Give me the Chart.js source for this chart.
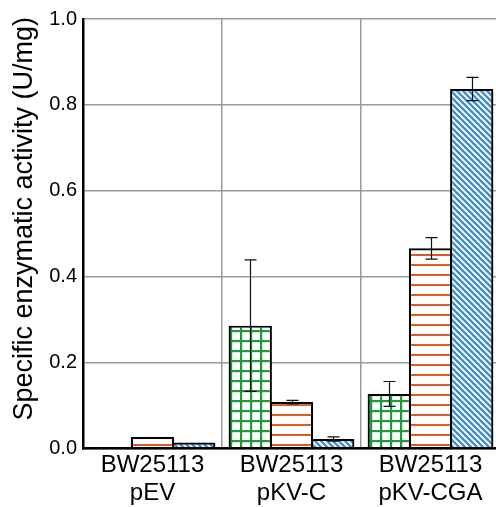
<!DOCTYPE html>
<html>
<head>
<meta charset="utf-8">
<script src="https://cdn.jsdelivr.net/npm/chart.js@4"></script>
<style>
  html, body { margin: 0; padding: 0; background: #fff; overflow: hidden; width: 496px; height: 507px; }
  #wrap { width: 500px; height: 507px; }
</style>
</head>
<body>
<div id="wrap"><canvas id="c" width="500" height="507"></canvas></div>
<script>
const categories = [['BW25113', 'pEV'], ['BW25113', 'pKV-C'], ['BW25113', 'pKV-CGA']];
const greenValues = [0, 0.286, 0.127];
const orangeValues = [0.027, 0.108, 0.466];
const blueValues = [0.014, 0.022, 0.837];
const greenErrors = [0, 0.153, 0.029];
const orangeErrors = [0, 0.004, 0.025];
const blueErrors = [0, 0.005, 0.027];
const yTicks = [0, 0.2, 0.4, 0.6, 0.8, 1.0];

function makePattern(w, h, draw) {
  const c = document.createElement('canvas');
  c.width = w; c.height = h;
  const g = c.getContext('2d');
  g.fillStyle = '#ffffff';
  g.fillRect(0, 0, w, h);
  draw(g, w, h);
  return document.getElementById('c').getContext('2d').createPattern(c, 'repeat');
}
const greenPattern = makePattern(10, 10, (g) => {
  g.fillStyle = '#1f9a3a';
  g.fillRect(0, 0, 10, 2.2);
  g.fillRect(0, 0, 2.2, 10);
});
const orangePattern = makePattern(10, 10, (g) => {
  g.fillStyle = '#e0581f';
  g.fillRect(0, 4, 10, 2);
});
const bluePattern = makePattern(6, 6, (g) => {
  g.strokeStyle = '#3f8fcf';
  g.lineWidth = 2.4;
  for (let k = -1; k <= 1; k++) {
    g.beginPath();
    g.moveTo(k * 6 - 2, -2);
    g.lineTo(k * 6 + 8, 8);
    g.stroke();
  }
});

const errorsByDataset = [greenErrors, orangeErrors, blueErrors];

const errorBarPlugin = {
  id: 'errorBars',
  afterDatasetsDraw(chart) {
    const ctx = chart.ctx;
    const yScale = chart.scales.y;
    ctx.save();
    ctx.strokeStyle = '#111';
    ctx.lineWidth = 1.2;
    chart.data.datasets.forEach((ds, i) => {
      const meta = chart.getDatasetMeta(i);
      meta.data.forEach((bar, j) => {
        const err = errorsByDataset[i][j];
        const v = ds.data[j];
        if (!err) return;
        const x = Math.round(bar.x) + 0.5;
        const yHi = yScale.getPixelForValue(v + err);
        const yLo = yScale.getPixelForValue(v - err);
        const cap = 6;
        ctx.beginPath();
        ctx.moveTo(x, yHi); ctx.lineTo(x, yLo);
        ctx.moveTo(x - cap, yHi); ctx.lineTo(x + cap, yHi);
        ctx.moveTo(x - cap, yLo); ctx.lineTo(x + cap, yLo);
        ctx.stroke();
      });
    });
    ctx.restore();
  }
};

const font = "'Liberation Sans', Arial, Helvetica, sans-serif";

new Chart(document.getElementById('c'), {
  type: 'bar',
  data: {
    labels: categories,
    datasets: [
      { data: greenValues, backgroundColor: greenPattern },
      { data: orangeValues, backgroundColor: orangePattern },
      { data: blueValues, backgroundColor: bluePattern }
    ].map(d => Object.assign(d, {
      borderColor: '#000',
      borderWidth: 2.2,
      borderSkipped: 'start',
      categoryPercentage: 0.89,
      barPercentage: 1.05
    }))
  },
  options: {
    responsive: false,
    devicePixelRatio: 1,
    animation: false,
    layout: { padding: { top: 19, right: 0, bottom: 0, left: 0 } },
    plugins: { legend: { display: false }, tooltip: { enabled: false } },
    scales: {
      x: {
        grid: { color: '#9a9a9a', lineWidth: 1.5, drawTicks: false, offset: true },
        border: { color: '#000', width: 2.5, z: 1 },
        ticks: { color: '#000', font: { family: font, size: 24 }, padding: 2 },
        afterFit(s) { s.height = 58.5; }
      },
      y: {
        min: 0, max: 1.0,
        afterBuildTicks(s) { s.ticks = yTicks.map(v => ({ value: v })); },
        grid: { color: '#9a9a9a', lineWidth: 1.5, drawTicks: false },
        border: { color: '#000', width: 2.5, z: 1 },
        ticks: {
          color: '#000', font: { family: font, size: 20 }, padding: 6,
          callback: (v) => Number(v).toFixed(1)
        },
        title: {
          display: true, text: '\u00a0\u00a0\u00a0\u00a0Specific enzymatic activity (U/mg)',
          color: '#000', font: { family: font, size: 27 }, padding: { top: 8, bottom: 0 }
        },
        afterFit(s) { s.width = 83; }
      }
    }
  },
  plugins: [errorBarPlugin]
});
</script>
</body>
</html>
